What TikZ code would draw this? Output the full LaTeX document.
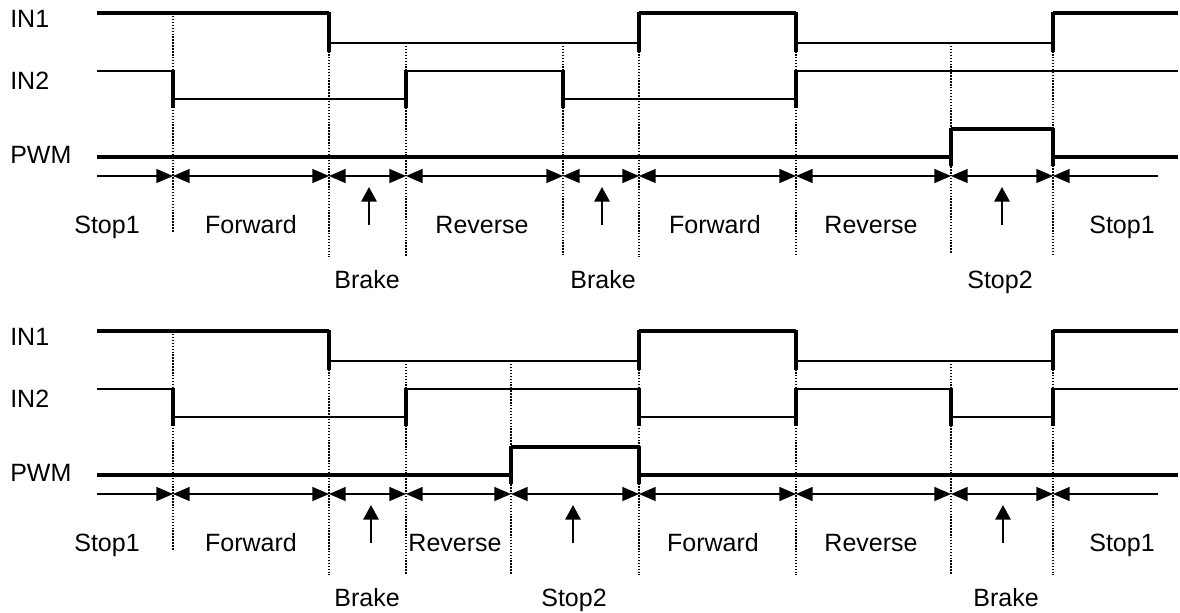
\documentclass[tikz,border=0pt]{standalone}
\usepackage{fontspec}
\setmainfont{Liberation Sans}
\usetikzlibrary{arrows.meta}
\begin{document}
\begin{tikzpicture}[x=0.75pt,y=-0.75pt,
  hi/.style={line width=2.4pt},
  lo/.style={line width=1.7pt},
  edge/.style={line width=2.6pt},
  guide/.style={line width=1pt,dash pattern=on 1.1pt off 1.1pt},
  spanboth/.style={line width=1.1pt,{Triangle[length=12.5pt,width=10.5pt]}-{Triangle[length=12.5pt,width=10.5pt]}},
  spanright/.style={line width=1.1pt,-{Triangle[length=12.5pt,width=10.5pt]}},
  spanleft/.style={line width=1.1pt,{Triangle[length=12.5pt,width=10.5pt]}-},
  uparrow/.style={line width=1.6pt,-{Triangle[length=11pt,width=11.5pt]}},
  lbl/.style={font=\fontsize{18.75}{22}\selectfont,anchor=base,inner sep=0pt},
  sig/.style={font=\fontsize{18.75}{22}\selectfont,anchor=base west,inner sep=0pt}]
\useasboundingbox (0,0) rectangle (1180,612);

% ================= TOP DIAGRAM =================
% guide lines
\foreach \x/\a/\b [count=\i] in {173/13/232,329/13/257,406/43/257,563/43/255,639/13/257,796/13/255,951/43/253,1053/13/255}{
  \coordinate (tg\i a) at (\x,\a);
  \coordinate (tg\i b) at (\x,\b);
  \draw[guide] (tg\i a) -- (tg\i b);
}
% signal labels
\node[sig] (tIN1) at (10,27) {IN1};
\node[sig] (tIN2) at (10,89) {IN2};
\node[sig] (tPWM) at (10,163) {PWM};
% IN1
\draw[hi] (97,13) -- (329,13) (639,13) -- (796,13) (1053,13) -- (1178,13);
\draw[lo] (329,43) -- (639,43) (796,43) -- (1053,43);
\foreach \x in {329,639,796,1053} \draw[edge] (\x,11.5) -- (\x,52);
% IN2
\draw[lo] (97,71) -- (173,71) (406,71) -- (563,71) (796,71) -- (1178,71);
\draw[lo] (173,99) -- (406,99) (563,99) -- (796,99);
\foreach \x in {173,406,563,796} \draw[edge] (\x,70) -- (\x,108);
% PWM
\draw[hi] (97,157) -- (951,157) (951,129) -- (1053,129) (1053,157) -- (1178,157);
\foreach \x in {951,1053} \draw[edge] (\x,127.5) -- (\x,166);
% span arrows
\foreach \x [count=\i] in {97,173,329,406,563,639,796,951,1053,1158}
  \coordinate (ta\i) at (\x,176);
\draw[spanright] (ta1) -- (ta2);
\foreach \i [evaluate=\i as \j using int(\i+1)] in {2,...,8}
  \draw[spanboth] (ta\i) -- (ta\j);
\draw[spanleft] (ta9) -- (ta10);
% up arrows
\foreach \x [count=\i] in {369,602,1002}{
  \coordinate (tub\i) at (\x,225);
  \coordinate (tut\i) at (\x,187);
  \draw[uparrow] (tub\i) -- (tut\i);
}
% state labels
\node[lbl] (tl1) at (107,233) {Stop1};
\node[lbl] (tl2) at (251,233) {Forward};
\node[lbl] (tl3) at (482,233) {Reverse};
\node[lbl] (tl4) at (715,233) {Forward};
\node[lbl] (tl5) at (871,233) {Reverse};
\node[lbl] (tl6) at (1122,233) {Stop1};
\node[lbl] (tl7) at (367,288) {Brake};
\node[lbl] (tl8) at (603,288) {Brake};
\node[lbl] (tl9) at (1000,288) {Stop2};

% ================= BOTTOM DIAGRAM =================
\begin{scope}[yshift=-238.5pt]
\foreach \x/\a/\b [count=\i] in {173/13/232,329/13/257,406/43/257,511/43/257,639/13/257,796/13/257,951/43/257,1053/13/257}{
  \coordinate (bg\i a) at (\x,\a);
  \coordinate (bg\i b) at (\x,\b);
  \draw[guide] (bg\i a) -- (bg\i b);
}
\node[sig] (bIN1) at (10,27) {IN1};
\node[sig] (bIN2) at (10,89) {IN2};
\node[sig] (bPWM) at (10,163) {PWM};
% IN1
\draw[hi] (97,13) -- (329,13) (639,13) -- (796,13) (1053,13) -- (1178,13);
\draw[lo] (329,43) -- (639,43) (796,43) -- (1053,43);
\foreach \x in {329,639,796,1053} \draw[edge] (\x,11.5) -- (\x,52);
% IN2
\draw[lo] (97,71) -- (173,71) (406,71) -- (639,71) (796,71) -- (951,71) (1053,71) -- (1178,71);
\draw[lo] (173,99) -- (406,99) (639,99) -- (796,99) (951,99) -- (1053,99);
\foreach \x in {173,406,639,796,951,1053} \draw[edge] (\x,70) -- (\x,108);
% PWM
\draw[hi] (97,157) -- (511,157) (511,129) -- (639,129) (639,157) -- (1178,157);
\foreach \x in {511,639} \draw[edge] (\x,127.5) -- (\x,166);
% span arrows
\foreach \x [count=\i] in {97,173,329,406,511,639,796,951,1053,1158}
  \coordinate (ba\i) at (\x,176);
\draw[spanright] (ba1) -- (ba2);
\foreach \i [evaluate=\i as \j using int(\i+1)] in {2,...,8}
  \draw[spanboth] (ba\i) -- (ba\j);
\draw[spanleft] (ba9) -- (ba10);
% up arrows
\foreach \x [count=\i] in {371,573,1003}{
  \coordinate (bub\i) at (\x,225);
  \coordinate (but\i) at (\x,187);
  \draw[uparrow] (bub\i) -- (but\i);
}
% state labels
\node[lbl] (bl1) at (107,233) {Stop1};
\node[lbl] (bl2) at (251,233) {Forward};
\node[lbl] (bl3) at (455,233) {Reverse};
\node[lbl] (bl4) at (713,233) {Forward};
\node[lbl] (bl5) at (871,233) {Reverse};
\node[lbl] (bl6) at (1122,233) {Stop1};
\node[lbl] (bl7) at (367,288) {Brake};
\node[lbl] (bl8) at (574,288) {Stop2};
\node[lbl] (bl9) at (1006,288) {Brake};
\end{scope}
\end{tikzpicture}
\end{document}
